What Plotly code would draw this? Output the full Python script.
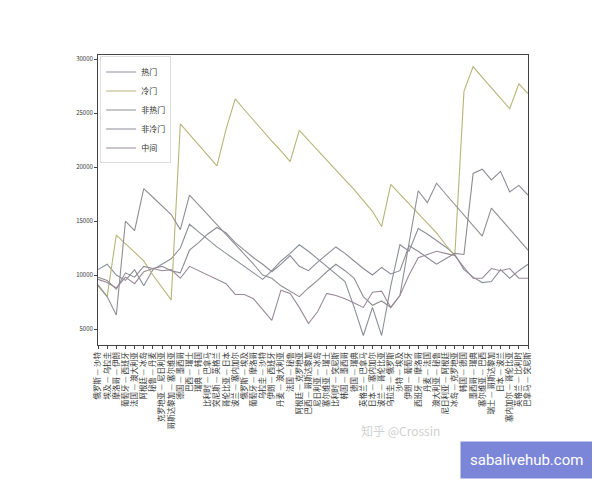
import plotly.graph_objects as go

matches = [
    "俄罗斯 — 沙特", "埃及 — 乌拉圭", "摩洛哥 — 伊朗", "葡萄牙 — 西班牙", "法国 — 澳大利亚",
    "阿根廷 — 冰岛", "秘鲁 — 丹麦", "克罗地亚 — 尼日利亚", "哥斯达黎加 — 塞尔维亚", "德国 — 墨西哥",
    "巴西 — 瑞士", "瑞典 — 韩国", "比利时 — 巴拿马", "突尼斯 — 英格兰", "哥伦比亚 — 日本",
    "波兰 — 塞内加尔", "俄罗斯 — 埃及", "葡萄牙 — 摩洛哥", "乌拉圭 — 沙特", "伊朗 — 西班牙",
    "丹麦 — 澳大利亚", "法国 — 秘鲁", "阿根廷 — 克罗地亚", "巴西 — 哥斯达黎加", "尼日利亚 — 冰岛",
    "塞尔维亚 — 瑞士", "比利时 — 突尼斯", "韩国 — 墨西哥", "德国 — 瑞典", "英格兰 — 巴拿马",
    "日本 — 塞内加尔", "波兰 — 哥伦比亚", "乌拉圭 — 俄罗斯", "沙特 — 埃及", "伊朗 — 葡萄牙",
    "西班牙 — 摩洛哥", "丹麦 — 法国", "澳大利亚 — 秘鲁", "尼日利亚 — 阿根廷", "冰岛 — 克罗地亚",
    "韩国 — 德国", "墨西哥 — 瑞典", "塞尔维亚 — 巴西", "瑞士 — 哥斯达黎加", "日本 — 波兰",
    "塞内加尔 — 哥伦比亚", "英格兰 — 比利时", "巴拿马 — 突尼斯",
]

hot = [10500, 11000, 10000, 9500, 10500, 9000, 10500, 11000, 11500, 12500, 14700, 14000,
       13300, 12600, 12000, 11400, 10800, 10200, 9600, 10400, 11300, 12000, 12800, 12200,
       11500, 10800, 10100, 9400, 7000, 4400, 7000, 4400, 9000, 12800, 12200, 14300,
       13800, 13200, 12600, 11900, 10500, 9800, 9300, 9400, 10500, 9700, 10400, 11000]
cold = [9000, 8000, 13700, 12900, 12100, 11300, 10000, 8800, 7700, 24000, 23000, 22000,
        21000, 20100, 23500, 26300, 25300, 24300, 23400, 22400, 21500, 20500, 23400, 22500,
        21600, 20600, 19700, 18800, 17900, 16900, 15900, 14500, 18400, 17500, 16600, 15700,
        14800, 13900, 12800, 11800, 27000, 29300, 28300, 27300, 26400, 25400, 27700, 26800]
not_hot = [9100, 8000, 6300, 15000, 14100, 18000, 17200, 16400, 15600, 14200, 17400, 16500,
           15600, 14700, 13800, 12900, 12000, 11000, 10000, 9700, 9000, 8500, 8000, 8800,
           9500, 10300, 11000, 10400, 9700, 8000, 7200, 7600, 7000, 8100, 13000, 17800,
           16700, 18500, 17500, 16500, 15500, 14500, 13600, 16200, 15200, 14200, 13200, 12300]
not_cold = [9800, 9500, 8700, 10200, 9800, 10800, 10600, 10800, 10400, 10200, 12300, 13000,
            13800, 14400, 13900, 13000, 12300, 11600, 11000, 10300, 11000, 11800, 10800, 10400,
            11200, 11900, 12600, 12000, 11300, 10600, 10000, 10700, 10100, 10400, 12700, 12200,
            11600, 11000, 11500, 12000, 11900, 19400, 19800, 18800, 19600, 17700, 18300, 17400]
middle = [9600, 9300, 8800, 9800, 9200, 10300, 10600, 10400, 10500, 9700, 10800, 10400,
          10000, 9600, 9200, 8200, 8200, 7800, 6800, 5800, 8600, 8300, 7000, 5500,
          6600, 8300, 8100, 7800, 7400, 7000, 8400, 8500, 7000, 8100, 10000, 11600,
          11900, 12200, 12000, 11800, 10700, 9700, 9700, 10600, 10400, 10600, 9700, 9700]

series = [("热门", hot, "#8a8f99"), ("冷门", cold, "#b8b47a"), ("非热门", not_hot, "#8f8f94"),
          ("非冷门", not_cold, "#8b8a96"), ("中间", middle, "#9a8a96")]

fig = go.Figure()
for name, vals, color in series:
    fig.add_trace(go.Scatter(x=matches, y=vals, name=name, mode="lines",
                             line=dict(color=color, width=1.1)))

fig.update_layout(
    width=600, height=480,
    paper_bgcolor="white", plot_bgcolor="white",
    margin=dict(l=90, r=80, t=47, b=143),
    font=dict(family="Noto Sans CJK SC", size=7, color="#333"),
    showlegend=True,
    legend=dict(x=0.005, y=0.995, xanchor="left", yanchor="top", bgcolor="white",
                bordercolor="#ddd", borderwidth=1, font=dict(size=8), tracegroupgap=0,
                itemwidth=30),
    annotations=[
        dict(text="知乎 @Crossin", x=0.8, y=-0.33, xref="paper", yref="paper",
             showarrow=False, font=dict(size=12, color="#d0d0d0")),
        dict(text="sabalivehub.com", x=1.15, y=-0.33, xref="paper", yref="paper",
             xanchor="right", yanchor="top", showarrow=False, bgcolor="#7b86d8",
             borderpad=9, font=dict(size=15, color="white", family="Roboto")),
    ],
)
fig.update_xaxes(showline=True, mirror=True, linecolor="#444", linewidth=1, ticks="outside",
                 ticklen=3, tickangle=-90, showgrid=False, tickfont=dict(size=7.5), dtick=1,
                 tickmode="linear")
fig.update_yaxes(showline=True, mirror=True, linecolor="#444", linewidth=1, ticks="outside",
                 ticklen=3, showgrid=False, range=[3520, 30370], tickformat="d",
                 tickvals=[5000, 10000, 15000, 20000, 25000, 30000], tickfont=dict(size=6))

fig.write_html("out.html")
